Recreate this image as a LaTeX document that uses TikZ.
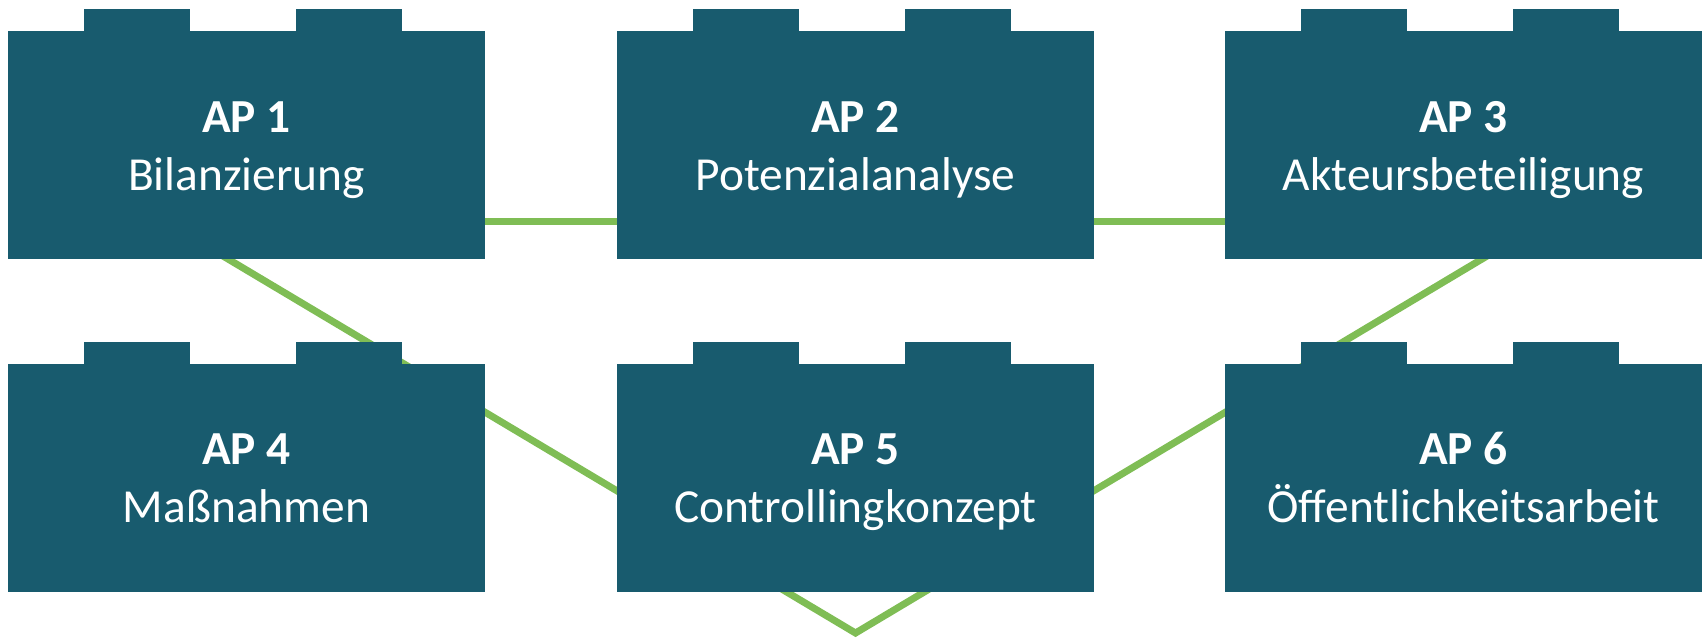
\documentclass[tikz,border=0pt]{standalone}
\usepackage{fontspec}
\setmainfont{Carlito}
\usetikzlibrary{backgrounds}
\definecolor{apteal}{RGB}{24,91,110}
\definecolor{apgreen}{RGB}{127,189,85}
\begin{document}
\begin{tikzpicture}[x=0.5pt,y=-0.5pt,
  apbox/.style={fill=apteal, draw=none, minimum width=238.5pt, minimum height=114pt, inner sep=0pt, outer sep=0pt},
  aptitle/.style={text=white, font=\fontsize{23.7}{28}\selectfont\bfseries, anchor=base, inner sep=0pt},
  apname/.style={text=white, font=\fontsize{23.7}{28}\selectfont, anchor=base, inner sep=0pt},
  link/.style={draw=apgreen, line width=3.5pt}]
\useasboundingbox (0,0) rectangle (1702,639);
\node[apbox] (ap1) at (246.5,145) {};
\node[apbox] (ap2) at (855.5,145) {};
\node[apbox] (ap3) at (1463.5,145) {};
\node[apbox] (ap4) at (246.5,477.5) {};
\node[apbox] (ap5) at (855.5,477.5) {};
\node[apbox] (ap6) at (1463.5,477.5) {};
\foreach \n in {ap1,ap2,ap3,ap4,ap5,ap6} {
  \fill[apteal] ([xshift=38pt,yshift=-0.5pt]\n.north west) rectangle ++(106,-23);
  \fill[apteal] ([xshift=144pt,yshift=-0.5pt]\n.north west) rectangle ++(106,-23);
}
\node[aptitle] (t1) at ([yshift=6.5pt]ap1.center) {AP 1};
\node[apname]  (n1) at ([yshift=-22.5pt]ap1.center) {Bilanzierung};
\node[aptitle] (t2) at ([yshift=6.5pt]ap2.center) {AP 2};
\node[apname]  (n2) at ([yshift=-22.5pt]ap2.center) {Potenzialanalyse};
\node[aptitle] (t3) at ([yshift=6.5pt]ap3.center) {AP 3};
\node[apname]  (n3) at ([yshift=-22.5pt]ap3.center) {Akteursbeteiligung};
\node[aptitle] (t4) at ([yshift=6.5pt]ap4.center) {AP 4};
\node[apname]  (n4) at ([yshift=-22.5pt]ap4.center) {Maßnahmen};
\node[aptitle] (t5) at ([yshift=6.5pt]ap5.center) {AP 5};
\node[apname]  (n5) at ([yshift=-22.5pt]ap5.center) {Controllingkonzept};
\node[aptitle] (t6) at ([yshift=6.5pt]ap6.center) {AP 6};
\node[apname]  (n6) at ([yshift=-22.5pt]ap6.center) {Öffentlichkeitsarbeit};
\begin{pgfonlayer}{background}
  \coordinate (v) at (855.5,633);
  \draw[link] ([yshift=-38.25pt]ap1.east) -- ([yshift=-38.25pt]ap3.west);
  \draw[link, line join=miter, shorten <=-15pt, shorten >=-15pt]
    ([xshift=-9.25pt]ap1.south) -- (v) -- ([xshift=9.25pt]ap3.south);
\end{pgfonlayer}
\end{tikzpicture}
\end{document}
